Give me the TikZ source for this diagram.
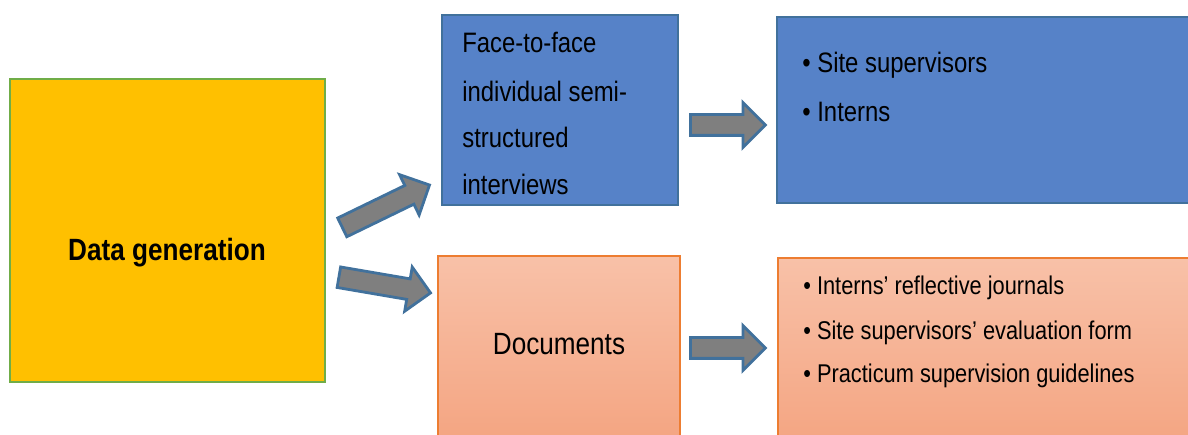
\documentclass[tikz,border=0pt]{standalone}
\usepackage{fontspec}
\setmainfont{Liberation Sans}[FakeStretch=0.85]
\usetikzlibrary{shapes.arrows}

\definecolor{genfill}{HTML}{FFC000}
\definecolor{genline}{HTML}{70AD47}
\definecolor{bluefill}{HTML}{5682C8}
\definecolor{blueline}{HTML}{41719C}
\definecolor{ortop}{HTML}{F8C1A8}
\definecolor{orbot}{HTML}{F4A582}
\definecolor{orline}{HTML}{ED7D31}
\definecolor{arrfill}{HTML}{7F7F7F}

\tikzset{
  genbox/.style={draw=genline, fill=genfill, line width=1.1pt, inner sep=0pt},
  bluebox/.style={draw=blueline, fill=bluefill, line width=0.9pt, inner sep=0pt},
  orbox/.style={draw=orline, top color=ortop, bottom color=orbot, line width=0.8pt, inner sep=0pt},
  blockarrow/.style={single arrow, draw=blueline, fill=arrfill, line width=1.6pt,
    inner sep=0pt, text height=0.18cm, text depth=0.18cm, anchor=tail,
    single arrow head extend=0.24cm},
  txt/.style={inner sep=0pt, anchor=base west},
  bigtxt/.style={inner sep=0pt, anchor=base, font=\fontsize{17.5}{21}\selectfont}
}

\begin{document}
\begin{tikzpicture}[x=0.02cm, y=-0.02cm]
    \useasboundingbox (0, 0) rectangle (1188, 435);
    % boxes
    \node[genbox, minimum width=6.3cm, minimum height=6.06cm] (gen) at (167.5, 230.5) {};
    \node[bluebox, minimum width=4.72cm, minimum height=3.8cm] (face) at (560, 110) {};
    \node[bluebox, minimum width=8.36cm, minimum height=3.72cm] (sites) at (986, 110) {};
    \node[orbox, minimum width=4.84cm, minimum height=3.66cm] (docs) at (559, 347.5) {};
    \node[orbox, minimum width=8.34cm, minimum height=3.7cm] (files) at (986.5, 350.5) {};
    % block arrows
    \node[blockarrow, minimum height=1.94cm, rotate=25.9] (upArrow) at (341, 228) {};
    \node[blockarrow, minimum height=1.86cm, rotate=-9.7] (downArrow) at (337.5, 277) {};
    \node[blockarrow, minimum height=1.5cm] (topArrow) at (689, 125) {};
    \node[blockarrow, minimum height=1.5cm] (botArrow) at (689, 348) {};
    % texts
    \node[bigtxt] (genText) at (167, 261) {\bfseries Data generation};
    \node[bigtxt] (docsText) at (559, 355) {Documents};
    \begin{scope}[font=\fontsize{16}{19}\selectfont]
        \node[txt] (faceA) at (462, 53) {Face-to-face};
        \node[txt] (faceB) at (462, 101.5) {individual semi-};
        \node[txt] (faceC) at (462, 148) {structured};
        \node[txt] (faceD) at (462, 195) {interviews};
        \node[txt] (sitesA) at (802, 73) {\textbullet\ Site supervisors};
        \node[txt] (sitesB) at (802, 122) {\textbullet\ Interns};
    \end{scope}
    \begin{scope}[font=\fontsize{14.6}{17}\selectfont]
        \node[txt] (filesA) at (803, 295) {\textbullet\ Interns’ reflective journals};
        \node[txt] (filesB) at (803, 340) {\textbullet\ Site supervisors’ evaluation form};
        \node[txt] (filesC) at (803, 383) {\textbullet\ Practicum supervision guidelines};
    \end{scope}
\end{tikzpicture}
\end{document}
